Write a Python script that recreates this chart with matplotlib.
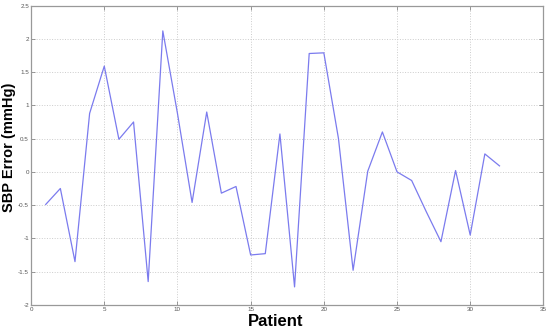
"""SBP error per patient line chart."""

import matplotlib

matplotlib.use("Agg")
import matplotlib.pyplot as plt

patients = list(range(1, 33))
sbp_error = [
    -0.49, -0.25, -1.35, 0.88, 1.59, 0.49, 0.75, -1.65, 2.12, 0.88,
    -0.46, 0.90, -0.32, -0.22, -1.25, -1.23, 0.57, -1.73, 1.78, 1.79,
    0.50, -1.48, 0.01, 0.60, 0.0, -0.13, -0.60, -1.05, 0.02, -0.95,
    0.27, 0.09,
]
x_ticks = [0, 5, 10, 15, 20, 25, 30, 35]
y_ticks = [-2, -1.5, -1, -0.5, 0, 0.5, 1, 1.5, 2, 2.5]

plt.rcParams["font.family"] = ["Liberation Sans", "DejaVu Sans"]

fig = plt.figure(figsize=(5.5, 3.31), dpi=100)
ax = fig.add_axes([0.0565, 0.079, 0.9315, 0.904])

ax.plot(patients, sbp_error, color="#7b7bee", linewidth=0.9)

ax.set_xlim(0, 35)
ax.set_ylim(-2, 2.5)
ax.set_xticks(x_ticks)
ax.set_yticks(y_ticks)
ax.set_xticklabels([str(t) for t in x_ticks])
ax.set_yticklabels(["%g" % t for t in y_ticks])
ax.tick_params(direction="in", length=3, width=0.6, colors="#888888",
               labelsize=4.5, labelcolor="#555555", top=True, right=True, pad=1.5)
ax.grid(True, color="#cccccc", linestyle=":", linewidth=0.7)
for spine in ax.spines.values():
    spine.set_color("#999999")
    spine.set_linewidth(0.9)

ax.set_xlabel("Patient", fontsize=12, fontweight="bold")
ax.xaxis.set_label_coords(0.477, -0.03)
ax.set_ylabel("SBP Error (mmHg)", fontsize=10.5, fontweight="bold")
ax.yaxis.set_label_coords(-0.029, 0.525)

plt.savefig("out.png", dpi=100)
plt.close()
